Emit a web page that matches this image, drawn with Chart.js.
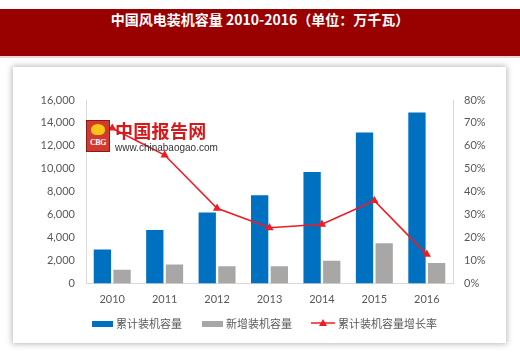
<!DOCTYPE html>
<html>
<head>
<meta charset="utf-8">
<script src="https://cdn.jsdelivr.net/npm/chart.js@4.4.1/dist/chart.umd.min.js"></script>
<style>
  html, body { margin:0; padding:0; background:#fff; }
  #wrap { position:relative; width:520px; height:357px; overflow:hidden; background:#fff; }
  #banner { position:absolute; left:0; top:9px; width:520px; height:47px; background:#990000;
    border-bottom:2px solid #e9d6d6; }
  #title { position:absolute; left:0; top:10px; width:520px; text-align:center; color:#fff;
    font:bold 14px "Noto Sans CJK SC", "Noto Sans", sans-serif; line-height:18px; }
  #card { position:absolute; left:13px; top:67px; width:493px; height:276px; background:#fff;
    box-shadow:0 0 6px 1px rgba(0,0,0,0.28); }
  canvas { position:absolute; left:0; top:0; }
  #wm { position:absolute; left:86px; top:120px; width:140px; height:36px; pointer-events:none; }
  #logo { position:absolute; left:0; top:0; width:22px; height:30px; background:#d13a2c;
    border:1px solid #8a1c16; overflow:hidden; }
  #logo .bird { position:absolute; left:4px; top:3px; width:14px; height:11px; background:#f5c518;
    border-radius:50% 50% 40% 40%; }
  #logo .cbg { position:absolute; left:0; top:17px; width:22px; text-align:center; color:#fff;
    font:bold 8px "Liberation Serif", serif; letter-spacing:-0.5px; }
  #wmt { position:absolute; left:29px; top:-1px; color:#d7191c; font:bold 18px "Noto Sans CJK SC", sans-serif;
    line-height:22px; white-space:nowrap; letter-spacing:0.3px; }
  #wmu { position:absolute; left:29px; top:22px; color:#333; font:10px "Liberation Sans", Arial, sans-serif;
    line-height:12px; white-space:nowrap; }
</style>
</head>
<body>
<div id="wrap">
  <div id="banner"></div>
  <div id="title">中国风电装机容量 2010-2016（单位：万千瓦）</div>
  <div id="card"></div>
  <canvas id="c" width="520" height="357"></canvas>
  <div id="wm">
    <div id="logo"><div class="bird"></div><div class="cbg">CBG</div></div>
    <div id="wmt">中国报告网</div>
    <div id="wmu">www.chinabaogao.com</div>
  </div>
</div>
<script>
const years = ['2010','2011','2012','2013','2014','2015','2016'];
const cumulative = [2970, 4660, 6180, 7690, 9730, 13170, 14920];
const added = [1200, 1660, 1510, 1510, 1980, 3500, 1780];
const growth = [0.677, 0.56, 0.328, 0.243, 0.258, 0.361, 0.127];
const seriesNames = ['累计装机容量', '新增装机容量', '累计装机容量增长率'];

const BLUE = '#0070C0', GRAY = '#A9A6A6', RED = '#EE1C24';
const TXT = '#595959';
const tickFont = { family: 'Lato, "Open Sans", sans-serif', size: 11 };

const legendPlugin = {
  id: 'customLegend',
  afterDraw(chart) {
    const ctx = chart.ctx;
    const ds = chart.data.datasets;
    const y = 324;
    ctx.save();
    ctx.font = '11px "Noto Sans CJK SC", sans-serif';
    ctx.textBaseline = 'middle';
    ctx.fillStyle = TXT;
    // items: bar, bar, line
    const items = [
      { ds: ds[1], x: 92 },
      { ds: ds[2], x: 202 },
      { ds: ds[0], x: 311 }
    ];
    items.forEach(it => {
      if (it.ds.type === 'line') {
        ctx.strokeStyle = it.ds.borderColor;
        ctx.lineWidth = 1.5;
        ctx.beginPath(); ctx.moveTo(it.x, y - 1); ctx.lineTo(it.x + 24, y - 1); ctx.stroke();
        ctx.fillStyle = it.ds.borderColor;
        ctx.beginPath();
        ctx.moveTo(it.x + 12, y - 5); ctx.lineTo(it.x + 16, y + 2); ctx.lineTo(it.x + 8, y + 2); ctx.closePath(); ctx.fill();
        ctx.fillStyle = TXT;
        ctx.fillText(it.ds.label, it.x + 27, y);
      } else {
        ctx.fillStyle = it.ds.backgroundColor;
        ctx.fillRect(it.x, y - 3, 21, 6);
        ctx.fillStyle = TXT;
        ctx.fillText(it.ds.label, it.x + 24, y);
      }
    });
    ctx.restore();
  }
};

new Chart(document.getElementById('c'), {
  type: 'bar',
  data: {
    labels: years,
    datasets: [
      {
        type: 'line', label: seriesNames[2], data: growth, yAxisID: 'y1', order: 0,
        borderColor: RED, backgroundColor: RED, borderWidth: 1.6, tension: 0,
        pointStyle: 'triangle', pointRadius: 3.2, pointBackgroundColor: RED, pointBorderColor: RED
      },
      {
        label: seriesNames[0], data: cumulative, yAxisID: 'y', order: 1,
        backgroundColor: BLUE, categoryPercentage: 0.75, barPercentage: 0.88
      },
      {
        label: seriesNames[1], data: added, yAxisID: 'y', order: 2,
        backgroundColor: GRAY, categoryPercentage: 0.75, barPercentage: 0.88
      }
    ]
  },
  options: {
    responsive: false,
    animation: false,
    layout: { padding: { top: 100, left: 0, right: 0, bottom: 0 } },
    plugins: { legend: { display: false }, tooltip: { enabled: false } },
    scales: {
      x: {
        grid: { display: false, drawTicks: false },
        border: { display: true, color: '#D9D9D9' },
        ticks: { color: TXT, font: tickFont, padding: 9 },
        afterFit(s) { s.height = 73.5; }
      },
      y: {
        position: 'left', min: 0, max: 16000,
        grid: { display: false, drawTicks: false },
        border: { display: true, color: '#D9D9D9' },
        ticks: { stepSize: 2000, color: TXT, font: tickFont, padding: 11,
          callback: v => v.toLocaleString('en-US') },
        afterFit(s) { s.width = 86; }
      },
      y1: {
        position: 'right', min: 0, max: 0.8,
        grid: { display: false, drawTicks: false },
        border: { display: true, color: '#D9D9D9' },
        ticks: { stepSize: 0.1, color: TXT, font: tickFont, padding: 11,
          callback: v => Math.round(v * 100) + '%' },
        afterFit(s) { s.width = 67; }
      }
    }
  },
  plugins: [legendPlugin]
});
</script>
</body>
</html>
